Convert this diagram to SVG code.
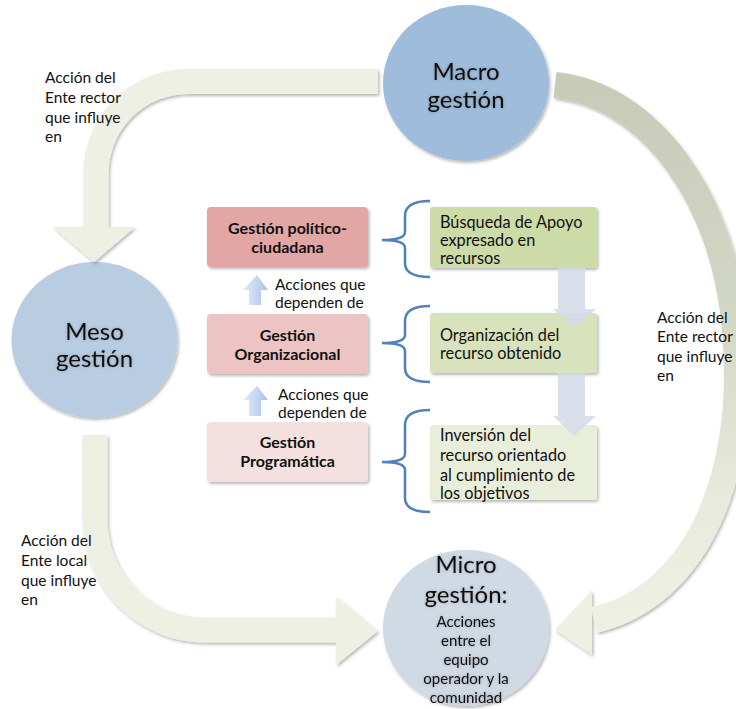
<svg xmlns="http://www.w3.org/2000/svg" width="736" height="709" viewBox="0 0 736 709">
<defs>
<filter id="sh" x="-20%" y="-20%" width="140%" height="140%">
<feDropShadow dx="1.5" dy="2" stdDeviation="1.5" flood-color="#000" flood-opacity="0.28"/>
</filter>
<filter id="tsh" x="-20%" y="-20%" width="140%" height="140%">
<feDropShadow dx="0" dy="0" stdDeviation="1.5" flood-color="#000" flood-opacity="0.25"/>
</filter>
<linearGradient id="gRight" gradientUnits="userSpaceOnUse" x1="0" y1="70" x2="0" y2="620">
<stop offset="0" stop-color="#c6cab7"/>
<stop offset="0.45" stop-color="#d3d7c5"/>
<stop offset="0.75" stop-color="#e6e9da"/>
<stop offset="1" stop-color="#eef0e4"/>
</linearGradient>
<linearGradient id="gUp" x1="0" y1="0" x2="1" y2="0">
<stop offset="0" stop-color="#e3ecfa"/>
<stop offset="1" stop-color="#a9c3ea"/>
</linearGradient>
<style>
.band{fill:none;stroke:#eef0e4;stroke-width:25}
.head{fill:#eef0e4}
.lbl{font-family:Lato,"Liberation Sans",sans-serif;font-size:15.5px;fill:#111}
.box{font-family:Lato,"Liberation Sans",sans-serif;font-size:16.3px;fill:#111}
.big{font-family:Lato,"Liberation Sans",sans-serif;font-size:24px;fill:#111;text-anchor:middle}
.mid{font-family:Lato,"Liberation Sans",sans-serif;font-size:15px;fill:#111;text-anchor:middle}
.bold{font-family:Lato,"Liberation Sans",sans-serif;font-size:16px;font-weight:bold;fill:#111;text-anchor:middle}
.brace{fill:none;stroke:#4f81bd;stroke-width:2.5}
.down{fill:#d3dbe8;opacity:0.85}
.up{fill:url(#gUp)}
</style>
</defs>

<g id="macro">
<ellipse cx="466" cy="83" rx="83" ry="78" fill="#9fbcdb" filter="url(#sh)"/>
<g filter="url(#tsh)">
<text class="big" x="466" y="80">Macro</text>
<text class="big" x="466" y="108">gestión</text>
</g>
</g>

<g id="meso">
<ellipse cx="94.5" cy="340" rx="83" ry="78" fill="#b8cce2" filter="url(#sh)"/>
<g filter="url(#tsh)">
<text class="big" x="94.5" y="340">Meso</text>
<text class="big" x="94.5" y="367">gestión</text>
</g>
</g>

<g id="micro">
<ellipse cx="466" cy="628" rx="83" ry="78" fill="#d0dae5" filter="url(#sh)"/>
<g filter="url(#tsh)">
<text class="big" x="466" y="573">Micro</text>
<text class="big" x="466" y="603">gestión:</text>
<text class="mid" x="466" y="627">Acciones</text>
<text class="mid" x="466" y="646">entre el</text>
<text class="mid" x="466" y="665">equipo</text>
<text class="mid" x="466" y="684">operador y la</text>
<text class="mid" x="466" y="703">comunidad</text>
</g>
</g>

<g id="gestion-politico">
<rect x="207" y="207" width="161" height="60" rx="4" fill="#e2a6a4" filter="url(#sh)"/>
<text class="bold" x="287.5" y="234">Gestión político-</text>
<text class="bold" x="287.5" y="253">ciudadana</text>
</g>
<g id="gestion-organizacional">
<rect x="207" y="314" width="161" height="60" rx="4" fill="#ecc4c3" filter="url(#sh)"/>
<text class="bold" x="287.5" y="341">Gestión</text>
<text class="bold" x="287.5" y="360">Organizacional</text>
</g>
<g id="gestion-programatica">
<rect x="207" y="422" width="161" height="60" rx="4" fill="#f4e0df" filter="url(#sh)"/>
<text class="bold" x="287.5" y="448">Gestión</text>
<text class="bold" x="287.5" y="467">Programática</text>
</g>

<g id="busqueda">
<rect x="430" y="207" width="167" height="61" rx="3" fill="#cddba8" filter="url(#sh)"/>
<text class="box" x="440" y="228">Búsqueda de Apoyo</text>
<text class="box" x="440" y="246">expresado en</text>
<text class="box" x="440" y="264">recursos</text>
</g>
<g id="organizacion">
<rect x="430" y="313" width="167" height="60" rx="3" fill="#d8e3bd" filter="url(#sh)"/>
<text class="box" x="440" y="341">Organización del</text>
<text class="box" x="440" y="359">recurso obtenido</text>
</g>
<g id="inversion">
<rect x="430" y="425" width="167" height="75" rx="3" fill="#e9eedb" filter="url(#sh)"/>
<text class="box" x="440" y="441">Inversión del</text>
<text class="box" x="440" y="461">recurso orientado</text>
<text class="box" x="440" y="481">al cumplimiento de</text>
<text class="box" x="440" y="499">los objetivos</text>
</g>

<g id="connectors">
<g filter="url(#sh)">
<path class="band" d="M378,81.5 L188,81.5 A92,92 0 0 0 96,173.5 L96,228"/>
<polygon class="head" points="53,227 135,227 94,262"/>
</g>
<g filter="url(#sh)">
<path d="M555,85 C650,95 725,200 735,330 C748,470 700,595 594,620" fill="none" stroke="url(#gRight)" stroke-width="26"/>
<polygon class="head" points="592,590 555,630 592,655"/>
</g>
<g filter="url(#sh)">
<path class="band" d="M95,435 L95,520 A110,110 0 0 0 205,630 L337,630"/>
<polygon class="head" points="336,597 378,631 336,665"/>
</g>
<g id="down-arrows">
<polygon class="down" points="558,268 585,268 585,309 596,309 574,328 553,309 558,309"/>
<polygon class="down" points="558,373 585,373 585,416 596,416 574,436 553,416 558,416"/>
</g>
<g id="up-arrows">
<polygon class="up" points="257,275 268,290 261,290 261,305 249,305 249,290 243,290"/>
<polygon class="up" points="257,386 268,400 261,400 261,416 249,416 249,400 243,400"/>
</g>
<g id="braces">
<path class="brace" d="M430,201 Q405,201 405,216 L405,232 Q405,240 382,240 Q405,240 405,248 L405,263 Q405,277 430,277"/>
<path class="brace" d="M430,306 Q405,306 405,321 L405,335 Q405,343 382,343 Q405,343 405,351 L405,368 Q405,382 430,382"/>
<path class="brace" d="M430,410 Q405,410 405,425 L405,454 Q405,462 382,462 Q405,462 405,470 L405,498 Q405,512 430,512"/>
</g>
</g>

<g id="labels">
<text class="lbl" x="45" y="83">Acción del</text>
<text class="lbl" x="45" y="103">Ente rector</text>
<text class="lbl" x="45" y="123">que influye</text>
<text class="lbl" x="45" y="142">en</text>
<text class="lbl" x="657" y="323">Acción del</text>
<text class="lbl" x="657" y="342">Ente rector</text>
<text class="lbl" x="657" y="362">que influye</text>
<text class="lbl" x="657" y="381">en</text>
<text class="lbl" x="21" y="546">Acción del</text>
<text class="lbl" x="21" y="566">Ente local</text>
<text class="lbl" x="21" y="586">que influye</text>
<text class="lbl" x="21" y="605">en</text>
<text class="lbl" x="275" y="290">Acciones que</text>
<text class="lbl" x="275" y="308">dependen de</text>
<text class="lbl" x="278" y="400">Acciones que</text>
<text class="lbl" x="278" y="418">dependen de</text>
</g>
</svg>
